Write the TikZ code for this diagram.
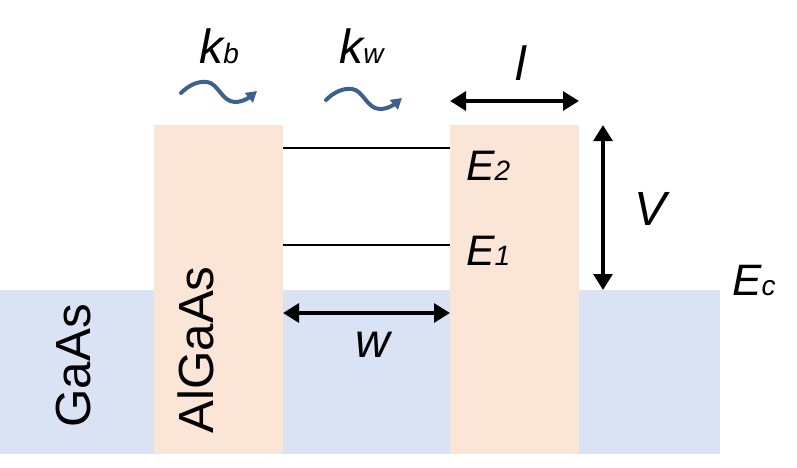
\documentclass[tikz,border=0pt]{standalone}
\usepackage{fontspec}
\setmainfont{Liberation Sans}
\usetikzlibrary{arrows.meta}
\definecolor{gaasblue}{RGB}{218,227,243}
\definecolor{barrierpeach}{RGB}{251,229,214}
\definecolor{waveblue}{RGB}{62,96,142}
\newcommand{\sublabel}[3]{{\fontsize{#3}{#3}\selectfont\itshape #1}{\fontsize{21}{21}\selectfont\itshape #2}}
\tikzset{
  dimarrow/.style={line width=3.5pt,{Triangle[width=14pt,length=12pt]}-{Triangle[width=14pt,length=12pt]}},
  wave/.style={waveblue,line width=3pt,line cap=round,-{Triangle[width=9pt,length=8pt]}},
  level/.style={line width=1.1pt},
  layer/.style={font=\fontsize{37}{37}\selectfont,rotate=90,inner sep=0pt},
  lab/.style={inner sep=0pt}
}

\begin{document}
\begin{tikzpicture}[x=0.75pt,y=-0.75pt]
  \useasboundingbox (0,0) rectangle (797,468);
  \fill[gaasblue] (0,290) rectangle (720,454);
  \fill[barrierpeach] (154,125) rectangle (283,454);
  \fill[barrierpeach] (450,125) rectangle (579,454);
  \coordinate (wl) at (283,313);
  \coordinate (wr) at (450,313);
  \coordinate (lt) at (450,101);
  \coordinate (rt) at (579,101);
  \coordinate (vt) at (603,125);
  \coordinate (vb) at (603,290);
  \coordinate (e2l) at (283,148);
  \coordinate (e2r) at (450,148);
  \coordinate (e1l) at (283,245);
  \coordinate (e1r) at (450,245);
  \draw[level] (e2l) -- (e2r);
  \draw[level] (e1l) -- (e1r);
  \draw[dimarrow] (wl) -- (wr);
  \draw[dimarrow] (lt) -- (rt);
  \draw[dimarrow] (vt) -- (vb);
  \foreach \x/\y in {181/93, 326/100}
    \draw[wave,shift={(\x,\y)}] (0,0) .. controls (8,-8) and (17,-12) .. (26,-11)
      .. controls (37,-10) and (41,9) .. (54,9) .. controls (63,9) and (70,3) .. (76,-2);
  \node[layer] (gaas) at (74,366) {GaAs};
  \node[layer] (algaas) at (196,350) {AlGaAs};
  \node[lab,anchor=base west] (kb) at (199,63) {\sublabel{k}{b}{36}};
  \node[lab,anchor=base west] (kw) at (339,63) {\sublabel{k}{w}{36}};
  \node[lab,anchor=base] (l) at (521,80) {\fontsize{36}{36}\selectfont\itshape l};
  \node[lab,anchor=base west] (e2) at (466,180) {\sublabel{E}{2}{32}};
  \node[lab,anchor=base west] (e1) at (466,265) {\sublabel{E}{1}{32}};
  \node[lab,anchor=base] (v) at (651,225) {\fontsize{36}{36}\selectfont\itshape V};
  \node[lab,anchor=base] (w) at (373,357) {\fontsize{36}{36}\selectfont\itshape w};
  \node[lab,anchor=base west] (ec) at (732,295) {\sublabel{E}{c}{33}};
\end{tikzpicture}
\end{document}
